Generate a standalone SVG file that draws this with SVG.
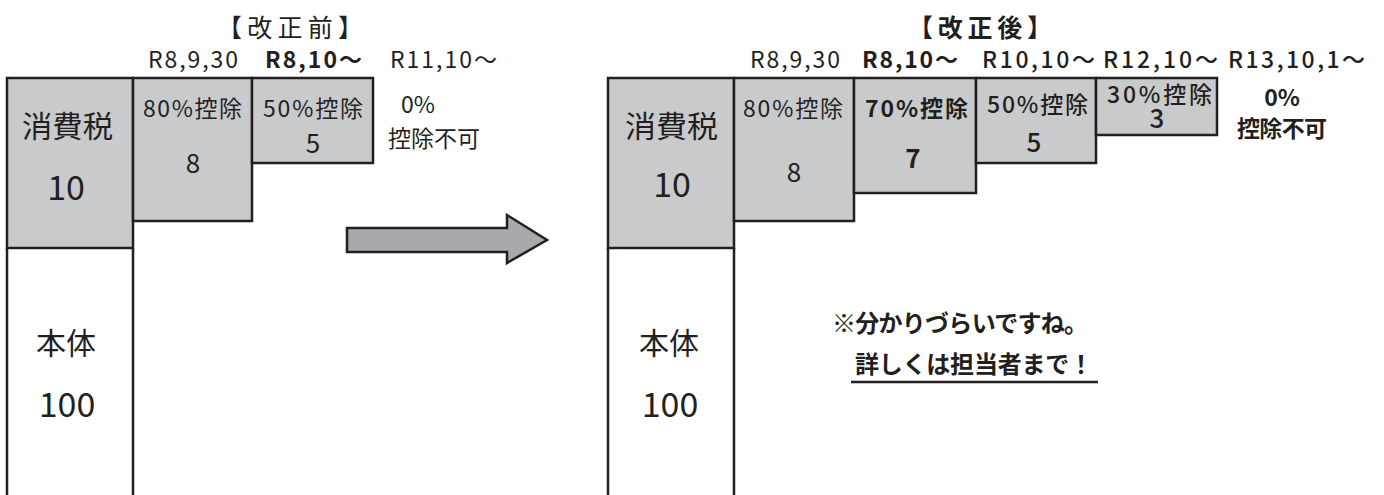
<svg xmlns="http://www.w3.org/2000/svg" width="1384" height="495" viewBox="0 0 1384 495">
<style>
text{font-family:"Noto Sans CJK JP","Noto Sans",sans-serif;fill:#231f20}
.box{fill:#c9cacc;stroke:#231f20;stroke-width:2.5}
.line{stroke:#231f20;stroke-width:2.5;fill:none}
.b{font-weight:bold}
.m{font-weight:500}
.c{text-anchor:middle}
.t{font-size:25px}
.d{font-size:23px}
.l{font-size:23px}
.big{font-size:30px}
.num{font-size:34px}
.n{font-size:26px}
</style>
<rect width="1384" height="495" fill="#ffffff"/>

<!-- Left: before revision -->
<g id="title-before"><text class="t c" x="290" y="37" textLength="146" lengthAdjust="spacing">【 改 正 前 】</text></g>
<g id="dates-before">
<text class="d" x="148" y="68" textLength="90" lengthAdjust="spacing">R8,9,30</text>
<text class="d b" x="265" y="68" textLength="97" lengthAdjust="spacing">R8,10〜</text>
<text class="d" x="390" y="68" textLength="107" lengthAdjust="spacing">R11,10〜</text>
</g>
<g id="tax-before">
<rect class="box" x="7" y="78" width="126" height="170"/>
<text class="big" x="22" y="137" textLength="91" lengthAdjust="spacingAndGlyphs">消費税</text>
<text class="num c" x="66" y="200">10</text>
</g>
<g id="body-before">
<path class="line" d="M7 248V495M133 248V495"/>
<text class="big c" x="66" y="354" font-size="31">本体</text>
<text class="num c" x="67" y="417">100</text>
</g>
<g id="d80-before">
<rect class="box" x="133" y="78" width="119" height="143"/>
<text class="l" x="143" y="117" textLength="99" lengthAdjust="spacing">80%控除</text>
<text class="n c" x="193" y="173">8</text>
</g>
<g id="d50-before">
<rect class="box" x="252" y="78" width="121" height="85"/>
<text class="l" x="263" y="117" textLength="100" lengthAdjust="spacing">50%控除</text>
<text class="n c" x="313" y="153">5</text>
</g>
<g id="d0-before">
<text class="l c" x="418" y="113" font-size="24">0%</text>
<text class="l" x="388" y="147" textLength="92" lengthAdjust="spacing">控除不可</text>
</g>

<!-- Arrow -->
<g id="arrow">
<path d="M347 228H507V215L547 240L507 263V252H347Z" fill="#a7a9ac" stroke="#231f20" stroke-width="2.5" stroke-linejoin="miter"/>
</g>

<!-- Right: after revision -->
<g id="title-after"><text class="t c b" x="980" y="37" textLength="144" lengthAdjust="spacing">【 改 正 後 】</text></g>
<g id="dates-after">
<text class="d" x="750" y="68" textLength="90" lengthAdjust="spacing">R8,9,30</text>
<text class="d b" x="862" y="68" textLength="96" lengthAdjust="spacing">R8,10〜</text>
<text class="d m" x="982" y="68" textLength="113" lengthAdjust="spacing">R10,10〜</text>
<text class="d m" x="1103" y="68" textLength="115" lengthAdjust="spacing">R12,10〜</text>
<text class="d m" x="1228" y="68" textLength="137" lengthAdjust="spacing">R13,10,1〜</text>
</g>
<g id="tax-after">
<rect class="box" x="608" y="78" width="126" height="170"/>
<text class="big" x="625" y="137" textLength="93" lengthAdjust="spacingAndGlyphs">消費税</text>
<text class="num c" x="672" y="197">10</text>
</g>
<g id="body-after">
<path class="line" d="M608 248V495M734 248V495"/>
<text class="big c" x="669" y="354" font-size="31">本体</text>
<text class="num c" x="670" y="417">100</text>
</g>
<g id="d80-after">
<rect class="box" x="734" y="78" width="120" height="143"/>
<text class="l" x="743" y="117" textLength="100" lengthAdjust="spacing">80%控除</text>
<text class="n c" x="794" y="182">8</text>
</g>
<g id="d70-after">
<rect class="box" x="854" y="78" width="122" height="115"/>
<text class="l b" x="865" y="117" textLength="103" lengthAdjust="spacing">70%控除</text>
<text class="n c b" x="913" y="168" font-size="27">7</text>
</g>
<g id="d50-after">
<rect class="box" x="976" y="78" width="120" height="85"/>
<text class="l m" x="987" y="113" textLength="101" lengthAdjust="spacing">50%控除</text>
<text class="n c m" x="1034" y="152" font-size="31">5</text>
</g>
<g id="d30-after">
<rect class="box" x="1096" y="78" width="121" height="57"/>
<text class="l m" x="1107" y="103" textLength="105" lengthAdjust="spacing">30%控除</text>
<text class="n c m" x="1157" y="128" font-size="25">3</text>
</g>
<g id="d0-after">
<text class="l c b" x="1282" y="106">0%</text>
<text class="l b" x="1237" y="137" textLength="90" lengthAdjust="spacing">控除不可</text>
</g>

<!-- Note -->
<g id="note">
<text class="b" font-size="24" x="832" y="332" textLength="256" lengthAdjust="spacing">※分かりづらいですね。</text>
<text class="b" font-size="24" x="855" y="373" textLength="238" lengthAdjust="spacing">詳しくは担当者まで！</text>
<path d="M851 382H1098" stroke="#231f20" stroke-width="2.5"/>
</g>
</svg>
